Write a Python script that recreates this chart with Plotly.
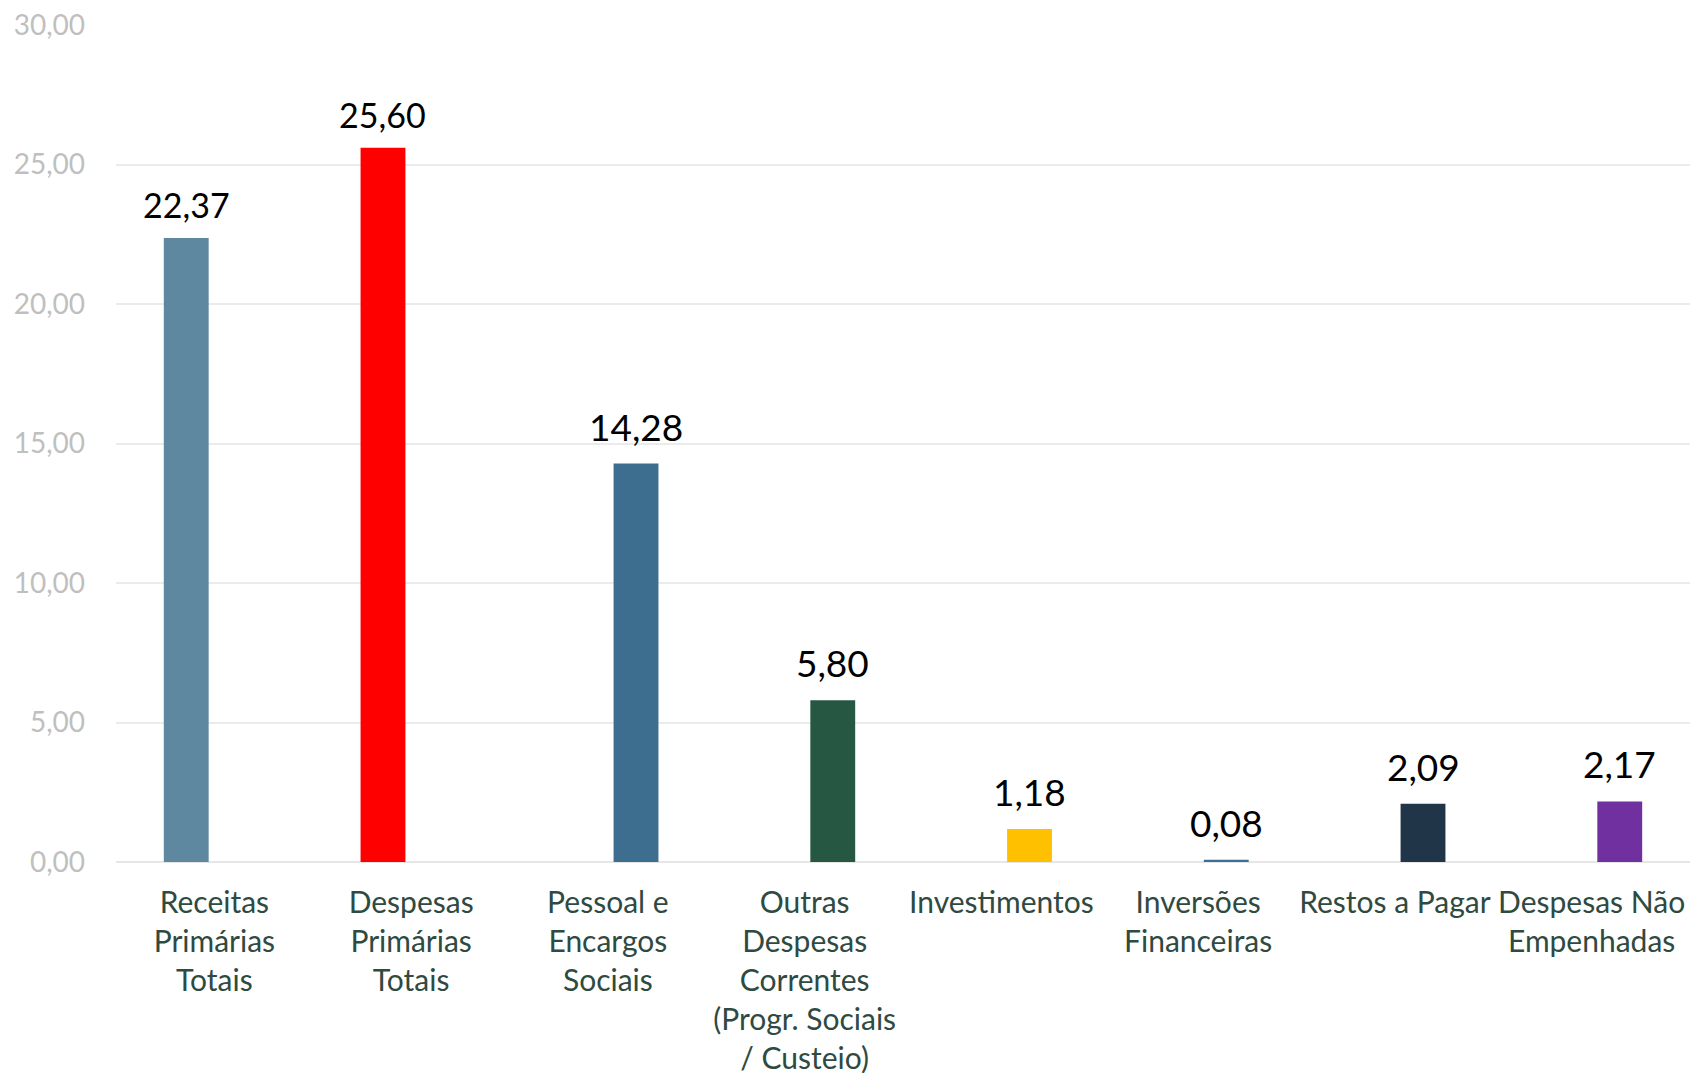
import plotly.graph_objects as go

categories = [
    "Receitas<br>Primárias<br>Totais",
    "Despesas<br>Primárias<br>Totais",
    "Pessoal e<br>Encargos<br>Sociais",
    "Outras<br>Despesas<br>Correntes<br>(Progr. Sociais<br>/ Custeio)",
    "Investimentos",
    "Inversões<br>Financeiras",
    "Restos a Pagar",
    "Despesas Não<br>Empenhadas",
]
values = [22.37, 25.60, 14.28, 5.80, 1.18, 0.08, 2.09, 2.17]
colors = ["#5E87A0", "#FF0000", "#3D6D8F", "#265743", "#FFC000", "#3B6F95", "#203648", "#7030A0"]
# which bar slot (left = first series, right = second series)
left_n = 2

y_ticks = [0, 5, 10, 15, 20, 25, 30]

BAR_W = 0.228
SLOT = 0.143

fig = go.Figure()
fig.add_trace(go.Bar(
    x=categories[:left_n], y=values[:left_n],
    marker=dict(color=colors[:left_n], line=dict(width=0)),
    width=BAR_W, offset=-SLOT - BAR_W / 2, showlegend=False,
))
fig.add_trace(go.Bar(
    x=categories[left_n:], y=values[left_n:],
    marker=dict(color=colors[left_n:], line=dict(width=0)),
    width=BAR_W, offset=SLOT - BAR_W / 2, showlegend=False,
))

for i, v in enumerate(values):
    left = i < left_n
    xpos = i - SLOT if left else i + SLOT
    fig.add_annotation(
        x=xpos, y=v, xref="x", yref="y",
        text=f"{v:.2f}".replace(".", ","),
        showarrow=False, yanchor="bottom", yshift=11 if left else 13,
        font=dict(family="Lato", size=34 if left else 37, color="#000000"),
    )

fig.update_layout(
    width=1690, height=1073,
    margin=dict(l=116, r=0, t=25, b=211),
    plot_bgcolor="white", paper_bgcolor="white",
    barmode="overlay",
    separators=",.",
    xaxis=dict(
        categoryorder="array", categoryarray=categories,
        range=[-0.5, len(categories) - 0.5],
        showgrid=False, showline=False, zeroline=False,
        ticks="", ticklabelstandoff=20, automargin=False,
        tickfont=dict(family="Lato", size=30, color="#2E4A41"),
    ),
    yaxis=dict(
        range=[0, 30], tickvals=y_ticks, tickformat=".2f",
        showgrid=True, gridcolor="#EBEBEB", gridwidth=1.5,
        zeroline=True, zerolinecolor="#E6E6E6", zerolinewidth=2,
        showline=False, ticks="", ticklabelstandoff=30, automargin=False,
        tickfont=dict(family="Lato", size=28, color="#BFBFBF"),
    ),
)

fig.write_html("out.html")
